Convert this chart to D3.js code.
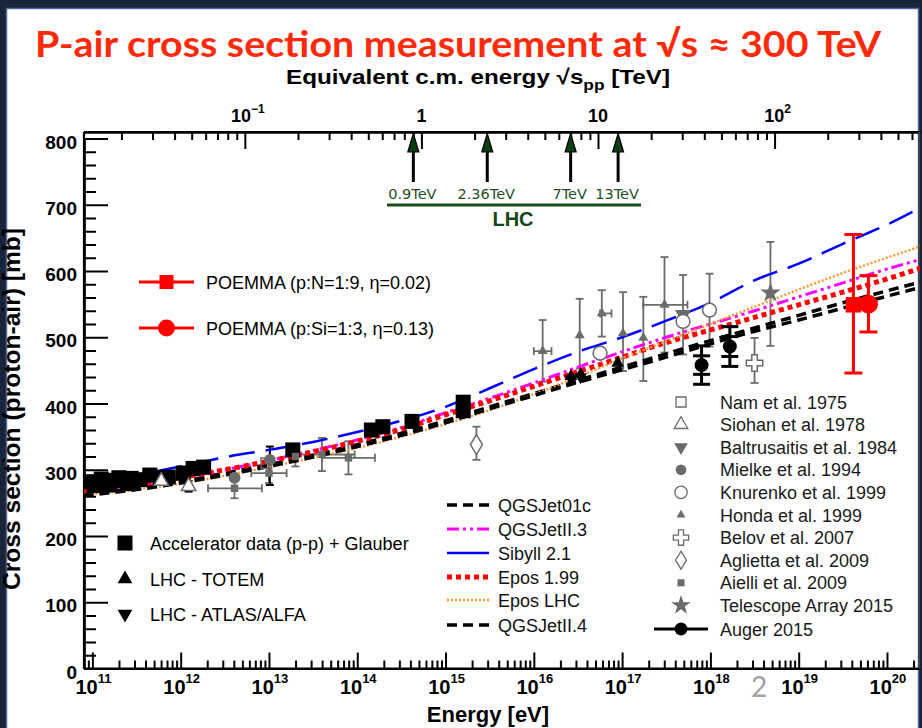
<!DOCTYPE html>
<html>
<head>
<meta charset="utf-8">
<script src="https://cdn.jsdelivr.net/npm/d3@7"></script>
<style>
  html, body { margin: 0; padding: 0; background: #142033; }
  svg { display: block; }
</style>
</head>
<body>
<svg id="chart" width="922" height="728"></svg>
<script>
// ---------- data (energies as log10(E / eV), cross sections in mb) ----------
const curveLogE  = [10.9, 11.5, 12, 12.5, 13, 13.5, 14, 14.5, 15, 15.5, 16, 16.5, 17, 17.5, 18, 18.5, 19, 19.5, 20, 20.4];
const qgsjet01c  = [263, 272, 282, 295, 308, 322, 338, 355, 374, 395, 415, 435, 455, 475, 495, 514, 533, 552, 570, 584];
const qgsjetII3  = [268, 277, 288, 300, 314, 329, 345, 364, 386, 408, 431, 455, 478, 500, 520, 540, 561, 582, 603, 618];
const sibyll21   = [279, 292, 305, 319, 330, 342, 357, 374, 395, 423, 452, 478, 500, 525, 552, 586, 611, 641, 670, 697];
const epos199    = [268, 277, 288, 300, 313, 327, 343, 361, 383, 404, 426, 448, 470, 492, 511, 530, 549, 568, 588, 605];
const eposLHC    = [262, 270, 279, 291, 304, 318, 333, 350, 369, 390, 414, 440, 468, 494, 520, 546, 572, 597, 620, 638];
const qgsjetII4  = [261, 270, 280, 292, 305, 319, 335, 352, 371, 392, 412, 432, 451, 470, 490, 509, 526, 544, 562, 576];

// accelerator p-p data converted with Glauber
const accelLogE  = [10.97, 11.02, 11.05, 11.10, 11.14, 11.20, 11.23, 11.30, 11.34, 11.40, 11.44, 11.54, 11.65, 11.77, 11.86, 12.03, 12.14, 12.26, 13.27, 14.16, 14.29, 14.62, 15.20, 15.20];
const accelSigma = [282, 276, 279, 286, 283, 277, 284, 288, 286, 279, 287, 285, 292, 288, 289, 295, 302, 304, 330, 360, 365, 373, 389, 402];

// LHC points
const totemLogE  = [16.42, 16.53, 16.95];
const totemSigma = [441, 444, 461];
const atlasLogE  = [16.42, 16.53];
const atlasSigma = [437, 440];

// cosmic-ray measurements: [log10 E, sigma, err-, err+, xlo, xhi]
const namData          = [[12.97, 310, 0, 0]];
const siohanData       = [[11.78, 283, 0, 0], [12.09, 275, 8, 8]];
const baltrusaitisData = [[17.69, 534, 60, 60]];
const mielkeData       = [[12.61, 288, 0, 0], [13.01, 315, 38, 20]];
const knurenkoData     = [[16.75, 476, 0, 0], [17.69, 524, 0, 0], [17.99, 541, 55, 55]];
const hondaData        = [[16.10, 479, 46, 47, 16.0, 16.2], [16.52, 503, 50, 55], [16.77, 536, 35, 35, 16.75, 16.88],
                          [17.01, 506, 57, 62], [17.24, 499, 65, 62], [17.48, 549, 72, 72, 17.24, 17.74]];
const belovData        = [[18.50, 461, 30, 38]];
const agliettaData     = [[15.35, 338, 23, 27]];
const aielliData       = [[12.61, 272, 15, 15, 12.31, 12.92], [13.00, 295, 15, 15, 12.80, 13.20], [13.30, 320, 15, 10],
                          [13.60, 323, 25, 25, 13.30, 13.97], [13.90, 318, 25, 25, 13.60, 14.20]];
const taData           = [[18.68, 567, 80, 77]];
// Auger: [log10 E, sigma, stat, syst]
const augerData        = [[17.90, 458, 14, 29], [18.22, 486, 15, 30]];

// POEMMA projections: [log10 E, sigma, err-, err+]
const poemmaSquare = [[19.62, 549, 103, 106]];
const poemmaCircle = [[19.79, 550, 42, 43]];

// LHC centre-of-mass energies (TeV)
const lhcEnergies = [0.9, 2.36, 7, 13];
const lhcLabels   = ["0.9TeV", "2.36TeV", "7TeV", "13TeV"];

const bottomTickExp = [11, 12, 13, 14, 15, 16, 17, 18, 19, 20];
const topTickLabels = [[0.1, "10", "\u22121"], [1, "1", ""], [10, "10", ""], [100, "10", "2"]];
const yTickValues   = [0, 100, 200, 300, 400, 500, 600, 700, 800];

// ---------- layout ----------
const svg = d3.select("#chart");
const L = 84, R = 920, T = 132, B = 668.5;
const logMin = 10.905, logMax = 20.374;
const mp = 0.938e9; // proton mass, eV
const sqrtS = E => Math.sqrt(2 * mp * E) / 1e12;

const x = d3.scaleLog().domain([Math.pow(10, logMin), Math.pow(10, logMax)]).range([L, R]);
const xs = d3.scaleLog().domain([sqrtS(Math.pow(10, logMin)), sqrtS(Math.pow(10, logMax))]).range([L, R]);
const y = d3.scaleLinear().domain([0, 800]).range([B, 138.5]);
const X = e => x(Math.pow(10, e));

// slide background
svg.append("rect").attr("x", 0).attr("y", 0).attr("width", 922).attr("height", 728).attr("fill", "#18243a");
svg.append("rect").attr("x", 6.5).attr("y", 8.5).attr("width", 912).attr("height", 730)
  .attr("fill", "#ffffff").attr("stroke", "#4a6a9e").attr("stroke-width", 1.5);

// title
svg.append("text").attr("x", 458).attr("y", 57).attr("text-anchor", "middle")
  .attr("font-family", "Lato, 'Open Sans', sans-serif").attr("font-weight", 700).attr("font-size", 36)
  .attr("fill", "#ff2a0a").attr("textLength", 846).attr("lengthAdjust", "spacingAndGlyphs")
  .text("P-air cross section measurement at \u221As \u2248 300 TeV");

// ---------- axes ----------
const axisFont = "'Liberation Sans', Arial, Helvetica, sans-serif";

function styleAxis(g) {
  g.selectAll("path").attr("stroke", "#000").attr("stroke-width", 2.2);
  g.selectAll("line").attr("stroke", "#000").attr("stroke-width", 2);
}

const minorE = [];
for (let n = 10; n <= 20; n++) for (let k = 2; k <= 9; k++) {
  const v = k * Math.pow(10, n);
  if (v > x.domain()[0] && v < x.domain()[1]) minorE.push(v);
}
const majorE = bottomTickExp.map(n => Math.pow(10, n));

svg.append("g").attr("transform", `translate(0,${B})`)
  .call(d3.axisBottom(x).tickValues(minorE).tickSize(-8).tickSizeOuter(0).tickFormat(""))
  .call(styleAxis);
svg.append("g").attr("transform", `translate(0,${B})`)
  .call(d3.axisBottom(x).tickValues(majorE).tickSize(-16).tickSizeOuter(0).tickFormat(""))
  .call(styleAxis);

const bl = svg.append("g").attr("font-family", axisFont).attr("font-weight", 700).attr("fill", "#000");
bottomTickExp.forEach(n => {
  const t = bl.append("text").attr("x", x(Math.pow(10, n)) + 1).attr("y", 694).attr("text-anchor", "middle").attr("font-size", 20);
  t.append("tspan").text("10");
  t.append("tspan").attr("font-size", 13).attr("dy", -11).text(String(n));
});

// top axis: equivalent c.m. energy
const sMin = xs.domain()[0], sMax = xs.domain()[1];
const minorS = [], majorS = [];
for (let n = -2; n <= 3; n++) for (let k = 1; k <= 9; k++) {
  const v = k * Math.pow(10, n);
  if (v > sMin && v < sMax) (k === 1 ? majorS : minorS).push(v);
}
svg.append("g").attr("transform", `translate(0,${T})`)
  .call(d3.axisTop(xs).tickValues(minorS).tickSize(-8).tickSizeOuter(0).tickFormat(""))
  .call(styleAxis);
svg.append("g").attr("transform", `translate(0,${T})`)
  .call(d3.axisTop(xs).tickValues(majorS).tickSize(-17).tickSizeOuter(0).tickFormat(""))
  .call(styleAxis);

topTickLabels.forEach(([v, base, sup]) => {
  const t = bl.append("text").attr("x", xs(v) + (sup ? 3 : 0)).attr("y", 122).attr("text-anchor", "middle").attr("font-size", 18);
  t.append("tspan").text(base);
  if (sup) t.append("tspan").attr("font-size", 12).attr("dy", -9).text(sup);
});

const tt = svg.append("text").attr("x", 286).attr("y", 84).attr("font-family", axisFont)
  .attr("font-weight", 700).attr("font-size", 21).attr("fill", "#000")
  .attr("textLength", 384).attr("lengthAdjust", "spacingAndGlyphs");
tt.append("tspan").text("Equivalent c.m. energy  \u221As");
tt.append("tspan").attr("font-size", 15).attr("dy", 6).text("pp");
tt.append("tspan").attr("dy", -6).text("  [TeV]");

// left axis
const minorY = d3.range(0, 811, 20).filter(v => v % 100 !== 0);
svg.append("g").attr("transform", `translate(${L},0)`)
  .call(d3.axisLeft(y).tickValues(minorY).tickSize(-12).tickSizeOuter(0).tickFormat(""))
  .call(styleAxis);
svg.append("g").attr("transform", `translate(${L},0)`)
  .call(d3.axisLeft(y).tickValues(yTickValues).tickSize(-24).tickSizeOuter(0).tickFormat(""))
  .call(styleAxis);
yTickValues.forEach(v => {
  bl.append("text").attr("x", 77).attr("y", y(v) + 10).attr("text-anchor", "end").attr("font-size", 19).text(v);
});

// frame lines
svg.append("line").attr("x1", L).attr("x2", L).attr("y1", T).attr("y2", B).attr("stroke", "#000").attr("stroke-width", 2.2);
svg.append("line").attr("x1", L).attr("x2", R).attr("y1", T).attr("y2", T).attr("stroke", "#000").attr("stroke-width", 2.2);
svg.append("line").attr("x1", L).attr("x2", R).attr("y1", B).attr("y2", B).attr("stroke", "#000").attr("stroke-width", 2.2);
svg.append("line").attr("x1", R - 1).attr("x2", R - 1).attr("y1", T).attr("y2", B).attr("stroke", "#444").attr("stroke-width", 1.5);

// axis titles
svg.append("text").attr("transform", "translate(20,409) rotate(-90)").attr("text-anchor", "middle")
  .attr("font-family", axisFont).attr("font-weight", 700).attr("font-size", 23).attr("fill", "#000")
  .attr("textLength", 362).attr("lengthAdjust", "spacingAndGlyphs")
  .text("Cross section (proton-air)  [mb]");
svg.append("text").attr("x", 488).attr("y", 722).attr("text-anchor", "middle")
  .attr("font-family", axisFont).attr("font-weight", 700).attr("font-size", 22).attr("fill", "#000")
  .text("Energy  [eV]");

// page number
svg.append("text").attr("x", 759).attr("y", 697).attr("text-anchor", "middle")
  .attr("font-family", "Lato, sans-serif").attr("font-size", 28).attr("fill", "#a3a3a3").text("2");

// ---------- LHC arrows ----------
const lhc = svg.append("g");
lhcEnergies.forEach((s, i) => {
  const ax = xs(s);
  lhc.append("line").attr("x1", ax).attr("x2", ax).attr("y1", 150).attr("y2", 182).attr("stroke", "#000").attr("stroke-width", 3);
  lhc.append("path").attr("d", `M${ax},133.5 L${ax - 5.5},152 L${ax + 5.5},152 Z`)
    .attr("fill", "#0f3d12").attr("stroke", "#000").attr("stroke-width", 1.2);
  lhc.append("text").attr("x", ax - 1).attr("y", 199).attr("text-anchor", "middle")
    .attr("font-family", "'DejaVu Sans', sans-serif").attr("font-size", 14.5).attr("fill", "#1f4f1f").text(lhcLabels[i]);
});
lhc.append("line").attr("x1", 387).attr("x2", 641).attr("y1", 205).attr("y2", 205).attr("stroke", "#1b4d1b").attr("stroke-width", 3);
lhc.append("text").attr("x", 513).attr("y", 226).attr("text-anchor", "middle").attr("font-family", axisFont)
  .attr("font-weight", 700).attr("font-size", 20).attr("fill", "#14461a").text("LHC");

// ---------- plot area ----------
svg.append("clipPath").attr("id", "plotClip").append("rect")
  .attr("x", L).attr("y", T).attr("width", R - L).attr("height", B - T);
const plot = svg.append("g").attr("clip-path", "url(#plotClip)");

const models = [
  { name: "QGSJet01c",   values: qgsjet01c, color: "#000000", width: 3.5, dash: "10,6" },
  { name: "QGSJetII.3",  values: qgsjetII3, color: "#ff00ff", width: 3,   dash: "12,4,3,4,3,4" },
  { name: "Sibyll 2.1",  values: sibyll21,  color: "#0000ff", width: 2.5, dash: "26,11" },
  { name: "Epos 1.99",   values: epos199,   color: "#ff0000", width: 5,   dash: "5,4" },
  { name: "Epos LHC",    values: eposLHC,   color: "#ff9933", width: 2.5, dash: "2,2" },
  { name: "QGSJetII.4",  values: qgsjetII4, color: "#000000", width: 3.5, dash: "10,6" }
];
const line = d3.line().x(d => X(d[0])).y(d => y(d[1])).curve(d3.curveMonotoneX);

const gray = "#6b6b6b";
const sym = (type, size) => d3.symbol().type(type).size(size)();

function errBars(g, data, color, cap, width) {
  data.forEach(d => {
    const [e, s, lo, hi, xlo, xhi] = d;
    if (lo || hi) {
      g.append("line").attr("x1", X(e)).attr("x2", X(e)).attr("y1", y(s - lo)).attr("y2", y(s + hi))
        .attr("stroke", color).attr("stroke-width", width);
      [s - lo, s + hi].forEach(v => g.append("line").attr("x1", X(e) - cap).attr("x2", X(e) + cap)
        .attr("y1", y(v)).attr("y2", y(v)).attr("stroke", color).attr("stroke-width", width));
    }
    if (xlo !== undefined) {
      g.append("line").attr("x1", X(xlo)).attr("x2", X(xhi)).attr("y1", y(s)).attr("y2", y(s))
        .attr("stroke", color).attr("stroke-width", width);
      [xlo, xhi].forEach(v => g.append("line").attr("x1", X(v)).attr("x2", X(v))
        .attr("y1", y(s) - cap).attr("y2", y(s) + cap).attr("stroke", color).attr("stroke-width", width));
    }
  });
}
function markers(g, data, path, fill, stroke, rot) {
  data.forEach(d => {
    g.append("path").attr("d", path)
      .attr("transform", `translate(${X(d[0])},${y(d[1])})${rot ? " rotate(180)" : ""}`)
      .attr("fill", fill).attr("stroke", stroke || "none").attr("stroke-width", 1.5);
  });
}

// error bars of the cosmic-ray data (drawn underneath)
const eb = plot.append("g");
[hondaData, aielliData, knurenkoData, baltrusaitisData, taData, belovData, agliettaData].forEach(ds => errBars(eb, ds, gray, 4, 1.8));
errBars(eb, siohanData, "#000", 4, 2);
errBars(eb, [mielkeData[1]], "#000", 4, 2);

// model curves
models.forEach(m => {
  plot.append("path").datum(curveLogE.map((e, i) => [e, m.values[i]]))
    .attr("d", line).attr("fill", "none").attr("stroke", m.color)
    .attr("stroke-width", m.width).attr("stroke-dasharray", m.dash);
});

// accelerator data
const mk = plot.append("g");
markers(mk, accelLogE.map((e, i) => [e, accelSigma[i]]), sym(d3.symbolSquare, 225), "#000");
markers(mk, totemLogE.map((e, i) => [e, totemSigma[i]]), sym(d3.symbolTriangle, 70), "#000");
markers(mk, atlasLogE.map((e, i) => [e, atlasSigma[i]]), sym(d3.symbolTriangle, 70), "#000", null, true);

// cosmic-ray data markers
markers(mk, namData, sym(d3.symbolSquare, 110), "none", gray);
markers(mk, siohanData, sym(d3.symbolTriangle, 90), "#fff", gray);
markers(mk, mielkeData, sym(d3.symbolCircle, 110), gray);
markers(mk, baltrusaitisData, sym(d3.symbolTriangle, 110), gray, null, true);
markers(mk, knurenkoData, sym(d3.symbolCircle, 150), "#fff", gray);
markers(mk, hondaData, sym(d3.symbolTriangle, 45), gray);
markers(mk, belovData, sym(d3.symbolCross, 150), "#fff", gray);
markers(mk, agliettaData, "M0,-10 L6,0 L0,10 L-6,0 Z", "#fff", gray);
markers(mk, aielliData, sym(d3.symbolSquare, 55), gray);
markers(mk, taData, sym(d3.symbolStar, 130), gray);

// Auger 2015 with statistical and systematic bars
augerData.forEach(([e, s, st, sy]) => {
  const cx = X(e);
  mk.append("line").attr("x1", cx).attr("x2", cx).attr("y1", y(s - sy)).attr("y2", y(s + sy)).attr("stroke", "#000").attr("stroke-width", 3);
  [s - sy, s - st, s + st, s + sy].forEach(v => mk.append("line").attr("x1", cx - 8.5).attr("x2", cx + 8.5)
    .attr("y1", y(v)).attr("y2", y(v)).attr("stroke", "#000").attr("stroke-width", 3));
  mk.append("circle").attr("cx", cx).attr("cy", y(s)).attr("r", 7).attr("fill", "#000");
});

// POEMMA projections
errBars(mk, poemmaSquare, "#ff0000", 9, 3);
errBars(mk, poemmaCircle, "#ff0000", 9, 3);
markers(mk, poemmaSquare, sym(d3.symbolSquare, 240), "#ff0000");
poemmaCircle.forEach(d => mk.append("circle").attr("cx", X(d[0])).attr("cy", y(d[1])).attr("r", 9.5).attr("fill", "#ff0000"));

// ---------- legends ----------
const legFont = "'Liberation Sans', Arial, Helvetica, sans-serif";
const lg = svg.append("g").attr("font-family", legFont).attr("font-size", 18);

// POEMMA legend
const poemmaLeg = [["POEMMA (p:N=1:9, \u03B7=0.02)", "square", 282], ["POEMMA (p:Si=1:3, \u03B7=0.13)", "circle", 328]];
poemmaLeg.forEach(([label, shape, ly]) => {
  lg.append("line").attr("x1", 139).attr("x2", 194).attr("y1", ly).attr("y2", ly).attr("stroke", "#ff0000").attr("stroke-width", 3);
  if (shape === "square") lg.append("rect").attr("x", 159.5).attr("y", ly - 7).attr("width", 14).attr("height", 14).attr("fill", "#ff0000");
  else lg.append("circle").attr("cx", 166.5).attr("cy", ly).attr("r", 8.5).attr("fill", "#ff0000");
  lg.append("text").attr("x", 206).attr("y", ly + 6.5).attr("fill", "#000").text(label);
});

// accelerator / LHC legend
const accLeg = [["Accelerator data (p-p) + Glauber", sym(d3.symbolSquare, 225), false, 543],
                ["LHC - TOTEM", sym(d3.symbolTriangle, 95), false, 579],
                ["LHC - ATLAS/ALFA", sym(d3.symbolTriangle, 95), true, 614]];
accLeg.forEach(([label, path, rot, ly]) => {
  lg.append("path").attr("d", path).attr("transform", `translate(125,${ly})${rot ? " rotate(180)" : ""}`).attr("fill", "#000");
  lg.append("text").attr("x", 150).attr("y", ly + 6.5).attr("fill", "#000").text(label);
});

// model legend
const modelRows = [505, 529, 553, 577, 600, 625];
models.forEach((m, i) => {
  const ly = modelRows[i];
  lg.append("line").attr("x1", 447).attr("x2", 489).attr("y1", ly).attr("y2", ly)
    .attr("stroke", m.color).attr("stroke-width", m.width)
    .attr("stroke-dasharray", m.name === "Sibyll 2.1" ? null : m.dash);
  lg.append("text").attr("x", 498).attr("y", ly + 6.5).attr("fill", "#111").text(m.name);
});

// cosmic-ray legend
const crLeg = [
  ["Nam et al. 1975",          sym(d3.symbolSquare, 100), "none", gray, false],
  ["Siohan et al. 1978",       sym(d3.symbolTriangle, 80), "none", gray, false],
  ["Baltrusaitis et al. 1984", sym(d3.symbolTriangle, 80), gray, null, true],
  ["Mielke et al. 1994",       sym(d3.symbolCircle, 90), gray, null, false],
  ["Knurenko et al. 1999",     sym(d3.symbolCircle, 120), "none", gray, false],
  ["Honda et al. 1999",        sym(d3.symbolTriangle, 35), gray, null, false],
  ["Belov et al. 2007",        sym(d3.symbolCross, 130), "none", gray, false],
  ["Aglietta et al. 2009",     "M0,-9 L5.5,0 L0,9 L-5.5,0 Z", "none", gray, false],
  ["Aielli et al. 2009",       sym(d3.symbolSquare, 50), gray, null, false],
  ["Telescope Array 2015",     sym(d3.symbolStar, 120), gray, null, false]
];
const crY0 = 402, crStep = 22.6;
crLeg.forEach(([label, path, fill, stroke, rot], i) => {
  const ly = crY0 + i * crStep;
  lg.append("path").attr("d", path).attr("transform", `translate(681,${ly})${rot ? " rotate(180)" : ""}`)
    .attr("fill", fill).attr("stroke", stroke || "none").attr("stroke-width", 1.3);
  lg.append("text").attr("x", 720).attr("y", ly + 6.5).attr("fill", "#1a1a1a").text(label);
});
const augY = crY0 + 10 * crStep + 1;
lg.append("line").attr("x1", 654).attr("x2", 708).attr("y1", augY).attr("y2", augY).attr("stroke", "#000").attr("stroke-width", 3);
lg.append("circle").attr("cx", 681).attr("cy", augY).attr("r", 6.5).attr("fill", "#000");
lg.append("text").attr("x", 720).attr("y", augY + 6.5).attr("fill", "#1a1a1a").text("Auger 2015");
</script>
</body>
</html>
